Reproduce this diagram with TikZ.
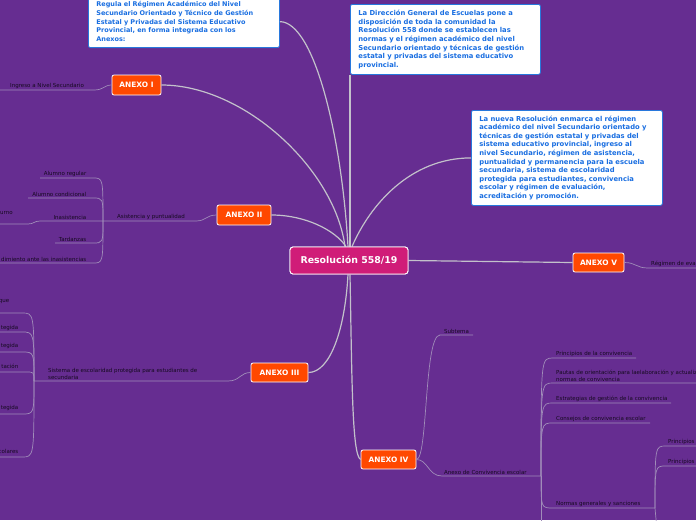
\documentclass[tikz,border=0pt]{standalone}
\usepackage{fontspec}
\setmainfont{DejaVu Sans}
\definecolor{bgc}{RGB}{102,45,145}
\definecolor{centerc}{RGB}{208,28,120}
\definecolor{anx}{RGB}{255,72,0}
\definecolor{mainline}{RGB}{195,193,203}
\definecolor{subline}{RGB}{160,140,185}
\definecolor{lbltext}{RGB}{22,10,32}
\definecolor{bluetext}{RGB}{25,110,225}
\definecolor{boxborder}{RGB}{40,120,220}
\begin{document}
\begin{tikzpicture}[x=1pt,y=-1pt,
  main/.style={line width=1.2pt, draw=mainline},
  sub/.style={line width=0.7pt, draw=subline},
  lbl/.style={font=\fontsize{5.5}{7}\selectfont, text=lbltext, inner sep=0pt, align=left},
  lblr/.style={lbl, align=right},
  centernode/.style={fill=centerc, draw=white, line width=0.9pt, rounded corners=3pt, minimum width=118pt, minimum height=27pt, font=\fontsize{9.4}{10}\selectfont\bfseries, text=white, inner sep=0pt},
  anexo/.style={fill=anx, draw=white, line width=0.8pt, rounded corners=2pt, font=\fontsize{7.4}{8}\selectfont\bfseries, text=white, inner sep=0pt, minimum height=19pt},
  infobox/.style={fill=white, draw=boxborder, line width=0.8pt, rounded corners=2pt, font=\fontsize{6.8}{8.6}\selectfont\bfseries, text=bluetext, align=left, inner xsep=8pt, inner ysep=0pt, anchor=north west}
]
\fill[bgc] (0,0) rectangle (696,520);
\useasboundingbox (0,0) rectangle (696,520);
\clip (0,0) rectangle (696,520);

% ---------- main nodes ----------
\node[centernode] (res) at (349,260.5) {Resolución 558/19};
\node[anexo, minimum width=49pt, minimum height=20pt] (a1) at (136.5,85) {ANEXO I};
\node[anexo, minimum width=54pt, minimum height=20pt] (a2) at (244,215) {ANEXO II};
\node[anexo, minimum width=57pt] (a3) at (279.5,372.5) {ANEXO III};
\node[anexo, minimum width=55pt] (a4) at (388.5,459.5) {ANEXO IV};
\node[anexo, minimum width=51pt] (a5) at (598.5,262.5) {ANEXO V};

\node[infobox, anchor=south west, minimum height=52pt, text width=175pt, font=\fontsize{6.5}{8.6}\selectfont\bfseries] (b1) at (88,48)
 {Regula el Régimen Académico del Nivel\\Secundario Orientado y Técnico de Gestión\\Estatal y Privadas del Sistema Educativo\\Provincial, en forma integrada con los\\Anexos:};
\node[infobox, minimum height=70pt, text width=174pt] (b2) at (350,4)
 {La Dirección General de Escuelas pone a\\disposición de toda la comunidad la\\Resolución 558 donde se establecen las\\normas y el régimen académico del nivel\\Secundario orientado y técnicas de gestión\\estatal y privadas del sistema educativo\\provincial.};
\node[infobox, minimum height=95pt, text width=175pt] (b3) at (471,110)
 {La nueva Resolución enmarca el régimen\\académico del nivel Secundario orientado y\\técnicas de gestión estatal y privadas del\\sistema educativo provincial, ingreso al\\nivel Secundario, régimen de asistencia,\\puntualidad y permanencia para la escuela\\secundaria, sistema de escolaridad\\protegida para estudiantes, convivencia\\escolar y régimen de evaluación,\\acreditación y promoción.};

% ---------- main connectors ----------
\draw[main] (a1.east) .. controls (245,85) and (335,170) .. ([xshift=-4pt]res.north);
\draw[main] (a2.east) .. controls (305,215) and (335,230) .. ([xshift=-3pt]res.north);
\draw[main] (b1.east) .. controls (315,22) and (342,140) .. ([xshift=-1pt]res.north);
\draw[main] (b2.south west) -- ([xshift=1pt]res.north);
\draw[main] (b3.west) .. controls (410,158) and (370,205) .. ([xshift=3pt]res.north);
\draw[main] ([xshift=-1pt]res.south) .. controls (345,330) and (330,372.5) .. (a3.east);
\draw[main] ([xshift=1pt]res.south) .. controls (352,380) and (352,455) .. (a4.west);
\draw[main] (res.east) -- (a5.west);

% redraw central node above connectors
\node[centernode] at (res) {Resolución 558/19};

% ---------- ANEXO I ----------
\draw[sub] (a1.west) .. controls (104,85) and (104,90) .. (94,90) -- (0,90);
\node[lbl, anchor=south west] (l1) at (10,88.5) {Ingreso a Nivel Secundario};

% ---------- ANEXO II ----------
\coordinate (j2) at (103,221);
\draw[sub] (a2.west) .. controls (206,215) and (206,221) .. (196,221) -- (j2);
\node[lbl, anchor=south west] (l2) at (117,219.5) {Asistencia y puntualidad};
\draw[sub] (j2) .. controls (103,178) and (103,178) .. (93,178) -- (40,178);
\node[lblr, anchor=south east] at (86.5,176.5) {Alumno regular};
\draw[sub] (j2) .. controls (103,198) and (103,198) .. (93,198) -- (28,198);
\node[lblr, anchor=south east] at (86.5,196.5) {Alumno condicional};
\draw[sub] (j2) -- (40,221) .. controls (34,221) and (34,224) .. (28,224) -- (0,224);
\node[lblr, anchor=south east] at (86.5,219.5) {Inasistencia};
\node[lbl, anchor=south west] at (0,215) {urno};
\draw[sub] (j2) .. controls (103,243) and (103,243) .. (93,243) -- (55,243);
\node[lblr, anchor=south east] at (86.5,241.5) {Tardanzas};
\draw[sub] (j2) .. controls (103,263) and (103,263) .. (93,263) -- (0,263);
\node[lblr, anchor=south east] at (86.5,261.5) {dimiento ante las inasistencias};

% ---------- ANEXO III ----------
\coordinate (j3) at (34,381);
\draw[sub] (a3.west) .. controls (240,372.5) and (240,381) .. (228,381) -- (j3);
\node[lbl, anchor=south west] at (48,379.5) {Sistema de escolaridad protegida para estudiantes de\\secundaria};
\draw[sub] (j3) .. controls (34,313) and (34,313) .. (22,313) -- (0,313);
\node[lblr, anchor=south east] at (9.5,303.5) {que};
\draw[sub] (j3) .. controls (34,332) and (34,332) .. (22,332) -- (0,332);
\node[lblr, anchor=south east] at (18.5,330.5) {tegida};
\draw[sub] (j3) .. controls (34,352) and (34,352) .. (22,352) -- (0,352);
\node[lblr, anchor=south east] at (18.5,349) {tegida};
\draw[sub] (j3) .. controls (34,372) and (34,372) .. (26,372) -- (0,372);
\node[lblr, anchor=south east] at (18.5,369) {tación};
\draw[sub] (j3) .. controls (34,414) and (34,414) .. (22,414) -- (0,414);
\node[lblr, anchor=south east] at (18.5,411) {tegida};
\draw[sub] (j3) .. controls (34,457) and (34,457) .. (22,457) -- (0,457);
\node[lblr, anchor=south east] at (18.5,454) {colares};

% ---------- ANEXO IV ----------
\draw[sub] (a4.east) .. controls (428,459.5) and (424,335) .. (440,335) -- (473,335);
\node[lbl, anchor=south west] at (444,333.5) {Subtema};
\coordinate (j4) at (541,476);
\draw[sub] (a4.east) .. controls (428,459.5) and (428,476) .. (442,476) -- (j4);
\node[lbl, anchor=south west] at (444,474.5) {Anexo de Convivencia escolar};
\draw[sub] (j4) .. controls (541,358) and (541,358) .. (553,358) -- (636,358);
\node[lbl, anchor=south west] at (556,356.5) {Principios de la convivencia};
\draw[sub] (j4) .. controls (541,383) and (541,383) .. (553,383) -- (696,383);
\node[lbl, anchor=south west] at (556,381.5) {Pautas de orientación para laelaboración y actualiz\\normas de convivencia};
\draw[sub] (j4) .. controls (541,403) and (541,403) .. (553,403) -- (671,403);
\node[lbl, anchor=south west] at (556,401.5) {Estrategias de gestión de la convivencia};
\draw[sub] (j4) .. controls (541,423) and (541,423) .. (553,423) -- (650,423);
\node[lbl, anchor=south west] at (556,421.5) {Consejos de convivencia escolar};
\coordinate (j5) at (655,508);
\draw[sub] (j4) .. controls (541,508) and (541,508) .. (553,508) -- (j5);
\node[lbl, anchor=south west] at (556,506.5) {Normas generales y sanciones};
\draw[sub] (j4) -- (541,530);
\draw[sub] (j5) .. controls (655,446) and (655,446) .. (666,446) -- (696,446);
\node[lbl, anchor=south west] at (668,444.5) {Principios};
\draw[sub] (j5) .. controls (655,466) and (655,466) .. (666,466) -- (696,466);
\node[lbl, anchor=south west] at (668,464.5) {Principios};
\draw[sub] (j5) -- (657,530);

% ---------- ANEXO V ----------
\draw[sub] (a5.east) .. controls (636,262.5) and (636,268) .. (648,268) -- (696,268);
\node[lbl, anchor=south west] at (651,266.5) {Régimen de eva};
\end{tikzpicture}
\end{document}
